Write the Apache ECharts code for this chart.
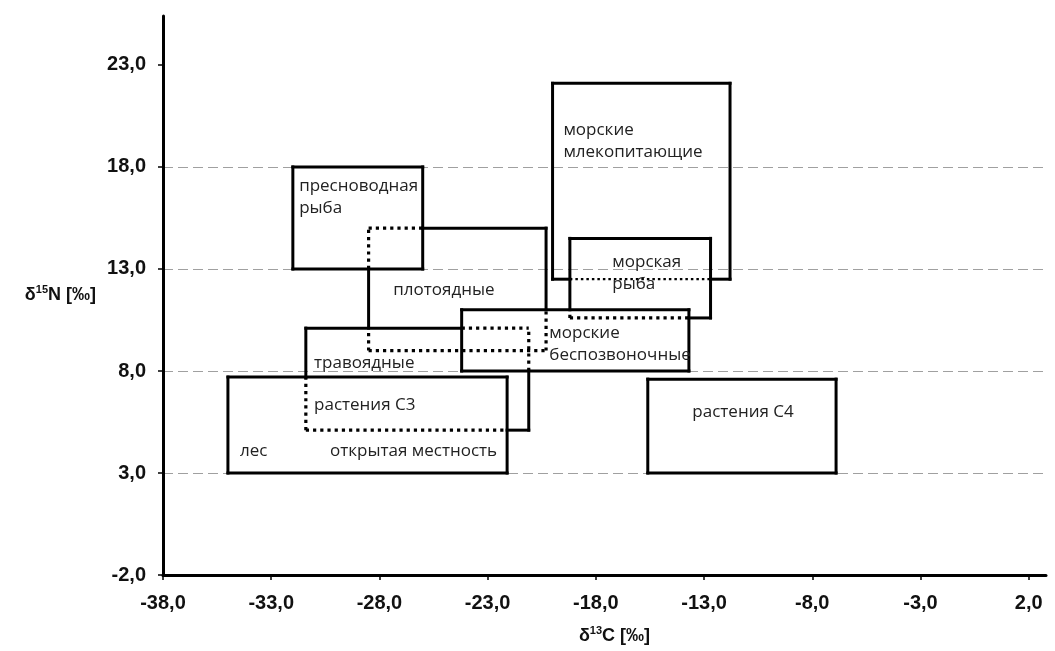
<!DOCTYPE html>
<html>
<head>
<meta charset="utf-8">
<script src="https://cdn.jsdelivr.net/npm/echarts@6/dist/echarts.min.js"></script>
<style>html,body{margin:0;padding:0;background:#fff}#c{width:1055px;height:651px}</style>
</head>
<body>
<div id="c"></div>
<script>
// ---- data ----
const xTicks = [-38, -33, -28, -23, -18, -13, -8, -3, 2];
const yTicks = [-2, 3, 8, 13, 18, 23];
const boxNames = ['пресноводная рыба', 'плотоядные', 'травоядные', 'растения C3', 'морские беспозвоночные', 'морская рыба', 'морские млекопитающие', 'растения C4'];
const boxX1 = [-32, -28.5, -31.4, -35, -24.2, -19.2, -20, -15.6];
const boxX2 = [-26, -20.3, -21.1, -22.1, -13.7, -12.7, -11.8, -6.9];
const boxY1 = [13, 9, 5.1, 3, 8, 10.6, 12.5, 3];
const boxY2 = [18, 15, 10.1, 7.7, 11, 14.5, 22.1, 7.6];
// boxes whose interior hides (dots) this box's outline
const boxBehind = [[], [0, 2, 4], [4, 3], [], [], [4], [5], []];
const labelText = ['пресноводная\nрыба', 'плотоядные', 'травоядные', 'растения C3', 'лес', 'открытая местность', 'морские\nмлекопитающие', 'морская\nрыба', 'морские\nбеспозвоночные', 'растения C4'];
const labelX = [-31.71, -27.36, -31.02, -31.02, -34.44, -30.28, -19.5, -17.24, -20.15, -13.54];
const labelY = [16.53, 11.97, 8.39, 6.33, 4.08, 4.08, 19.27, 12.8, 9.3, 5.99];

// ---- helpers ----
function fmt(v) { return v.toFixed(1).replace('.', ','); }

function edgePieces(i) {
  const x1 = boxX1[i], x2 = boxX2[i], y1 = boxY1[i], y2 = boxY2[i];
  const edges = [
    { h: true, fixed: y2, from: x1, to: x2 },
    { h: true, fixed: y1, from: x1, to: x2 },
    { h: false, fixed: x1, from: y1, to: y2 },
    { h: false, fixed: x2, from: y1, to: y2 }
  ];
  const pieces = [];
  edges.forEach(e => {
    let iv = [];
    boxBehind[i].forEach(j => {
      if (e.h) {
        if (boxY1[j] < e.fixed && e.fixed < boxY2[j]) iv.push([Math.max(e.from, boxX1[j]), Math.min(e.to, boxX2[j])]);
      } else {
        if (boxX1[j] < e.fixed && e.fixed < boxX2[j]) iv.push([Math.max(e.from, boxY1[j]), Math.min(e.to, boxY2[j])]);
      }
    });
    iv = iv.filter(a => a[0] < a[1]).sort((a, b) => a[0] - b[0]);
    const merged = [];
    iv.forEach(a => {
      if (merged.length && a[0] <= merged[merged.length - 1][1]) merged[merged.length - 1][1] = Math.max(merged[merged.length - 1][1], a[1]);
      else merged.push(a.slice());
    });
    let cur = e.from;
    merged.forEach(a => {
      if (a[0] > cur) pieces.push({ e, a: cur, b: a[0], dotted: false });
      pieces.push({ e, a: a[0], b: a[1], dotted: true });
      cur = a[1];
    });
    if (cur < e.to) pieces.push({ e, a: cur, b: e.to, dotted: false });
  });
  return pieces;
}

const chart = echarts.init(document.getElementById('c'), null, { renderer: 'canvas' });
const axisLabelStyle = { fontFamily: 'Liberation Sans, Arial, sans-serif', fontSize: 20, fontWeight: 'bold', color: '#111' };
const nameRich = {
  d: { fontFamily: 'Liberation Sans, Arial', fontSize: 18, fontWeight: 'bold', color: '#111', lineHeight: 22 },
  s: { fontFamily: 'Liberation Sans, Arial', fontSize: 11, fontWeight: 'bold', color: '#111', lineHeight: 12, verticalAlign: 'top' }
};

const option = {
  backgroundColor: '#fff',
  animation: false,
  grid: { left: 163, right: 9, top: 16, bottom: 76 },
  xAxis: {
    type: 'value', min: -38, max: 2.8, interval: 5,
    axisLine: { show: true, onZero: false, lineStyle: { color: '#000', width: 3 } },
    axisTick: { show: true, length: 5, lineStyle: { color: '#000', width: 1.5 }, customValues: xTicks },
    axisLabel: Object.assign({ margin: 18, formatter: fmt, customValues: xTicks }, axisLabelStyle),
    splitLine: { show: false },
    name: '{d|δ}{s|13}{d|C [‰]}',
    nameLocation: 'middle', nameGap: 50,
    nameTextStyle: { padding: [0, 0, 0, 20], rich: nameRich }
  },
  yAxis: {
    type: 'value', min: -2, max: 25.4, interval: 5,
    axisLine: { show: true, onZero: false, lineStyle: { color: '#000', width: 3 } },
    axisTick: { show: true, length: 5, lineStyle: { color: '#000', width: 1.5 }, customValues: yTicks },
    axisLabel: Object.assign({ margin: 17, formatter: fmt, customValues: yTicks }, axisLabelStyle),
    splitLine: { show: true, showMinLine: false, showMaxLine: false, lineStyle: { color: '#a0a0a0', width: 1, type: [10, 5] } },
    name: '{d|δ}{s|15}{d|N [‰]}',
    nameLocation: 'middle', nameGap: 67, nameRotate: 0,
    nameTextStyle: { align: 'right', rich: nameRich }
  },
  series: [
    {
      type: 'custom',
      coordinateSystem: 'cartesian2d',
      silent: true,
      clip: false,
      data: boxNames.map((n, i) => [boxX1[i], boxY1[i], boxX2[i], boxY2[i], i]),
      encode: { x: [0, 2], y: [1, 3] },
      renderItem: function (params, api) {
        const i = api.value(4);
        const children = edgePieces(i).map(p => {
          const s = p.e.h ? api.coord([p.a, p.e.fixed]) : api.coord([p.e.fixed, p.a]);
          const t = p.e.h ? api.coord([p.b, p.e.fixed]) : api.coord([p.e.fixed, p.b]);
          return {
            type: 'line',
            shape: { x1: s[0], y1: s[1], x2: t[0], y2: t[1] },
            style: p.dotted
              ? { stroke: '#000', lineWidth: i === 6 ? 2.2 : 3.2, lineDash: i === 6 ? [2.5, 3] : [3.2, 4], lineCap: 'butt' }
              : { stroke: '#000', lineWidth: 3, lineCap: 'square' }
          };
        });
        return { type: 'group', children };
      }
    },
    {
      type: 'custom',
      coordinateSystem: 'cartesian2d',
      silent: true,
      clip: false,
      data: labelText.map((t, i) => [labelX[i], labelY[i], i]),
      encode: { x: 0, y: 1 },
      renderItem: function (params, api) {
        const i = api.value(2);
        const pt = api.coord([api.value(0), api.value(1)]);
        return {
          type: 'text',
          x: pt[0], y: pt[1],
          style: {
            text: labelText[i],
            fill: '#222',
            fontFamily: 'Open Sans, sans-serif',
            fontSize: 17,
            lineHeight: 22,
            align: 'left', verticalAlign: 'middle',
            textAlign: 'left', textVerticalAlign: 'middle'
          }
        };
      }
    }
  ]
};
chart.setOption(option);
</script>
</body>
</html>
